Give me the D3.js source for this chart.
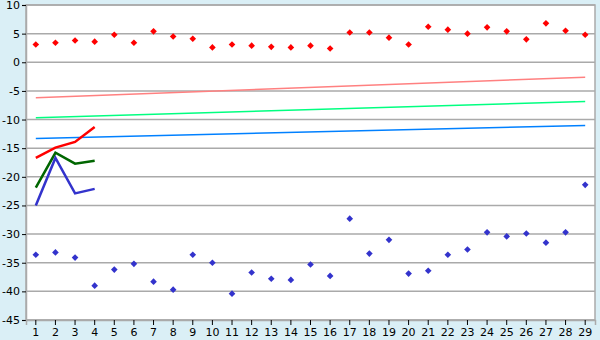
<!DOCTYPE html>
<html>
<head>
<meta charset="utf-8">
<script src="https://cdn.jsdelivr.net/npm/d3@7"></script>
<style>
  body { margin: 0; background: #daeff6; }
  svg { display: block; }
  .tick text { font-family: "DejaVu Sans", Verdana, sans-serif; font-size: 11px; fill: #000; }
</style>
</head>
<body>
<svg id="chart" width="600" height="340"></svg>
<script>
// categories
var days = d3.range(1, 30);
var yTicks = [10, 5, 0, -5, -10, -15, -20, -25, -30, -35, -40, -45];

// red scatter (upper)
var highPts = [3.1, 3.4, 3.8, 3.6, 4.8, 3.4, 5.4, 4.5, 4.1, 2.6, 3.1, 2.9, 2.7, 2.6, 2.9, 2.4, 5.2, 5.2, 4.3,
  3.1, 6.2, 5.7, 5.0, 6.1, 5.4, 4.0, 6.8, 5.5, 4.8];
// blue scatter (lower)
var lowPts = [-33.6, -33.2, -34.1, -39.0, -36.2, -35.2, -38.3, -39.7, -33.6, -35.0, -40.4, -36.7, -37.8, -38.0, -35.3, -37.3,
  -27.3, -33.4, -31.0, -36.9, -36.4, -33.6, -32.7, -29.7, -30.4, -29.9, -31.5, -29.7, -21.4];

// short lines, first 4 days
var redLine = [-16.7, -14.9, -13.9, -11.3];
var greenLine = [-21.9, -15.8, -17.7, -17.2];
var blueLine = [-25.0, -16.7, -22.9, -22.1];

// trend lines, value at day 1 and day 29
var trendPink = [-6.2, -2.6];
var trendGreen = [-9.7, -6.85];
var trendBlue = [-13.3, -11.05];

var svg = d3.select("#chart");
var m = {left: 26, top: 5, right: 5, bottom: 20};
var w = 600 - m.left - m.right, h = 340 - m.top - m.bottom;

var x = d3.scaleBand().domain(days).range([0, w]);
var y = d3.scaleLinear().domain([-45, 10]).range([h, 0]);
var cx = function(d) { return x(d) + x.bandwidth() / 2; };

var g = svg.append("g").attr("transform", "translate(" + m.left + "," + m.top + ")");

g.append("rect").attr("width", w).attr("height", h).attr("fill", "#fff");

// grid
g.selectAll("line.grid")
  .data(yTicks)
  .enter()
  .append("line")
  .attr("class", "grid")
  .attr("x1", 0).attr("x2", w)
  .attr("y1", function(d) { return y(d); })
  .attr("y2", function(d) { return y(d); })
  .attr("stroke", "#aaa")
  .attr("stroke-width", 1.5);

g.append("rect").attr("width", w).attr("height", h)
  .attr("fill", "none").attr("stroke", "#aaa").attr("stroke-width", 1.5);

// axes
var yAxis = g.append("g").call(d3.axisLeft(y).tickValues(yTicks).tickSize(4).tickPadding(2)
  .tickFormat(function(d) { return String(d); }));
var xAxis = g.append("g").attr("transform", "translate(0," + h + ")")
  .call(d3.axisBottom(x).tickSize(5).tickPadding(3));
[yAxis, xAxis].forEach(function(a) {
  a.select(".domain").attr("stroke", "#aaa").attr("stroke-width", 1.5);
  a.selectAll(".tick line").attr("stroke", "#000");
});

// trend lines
var trends = [[trendPink, "#ff8080"], [trendGreen, "#00ff80"], [trendBlue, "#0080ff"]];
trends.forEach(function(t) {
  g.append("line")
    .attr("x1", cx(1)).attr("x2", cx(29))
    .attr("y1", y(t[0][0])).attr("y2", y(t[0][1]))
    .attr("stroke", t[1]).attr("stroke-width", 1.5);
});

// short lines
var line = d3.line().x(function(d, i) { return cx(days[i]); }).y(function(d) { return y(d); });
[[redLine, "#ff0000"], [greenLine, "#006600"], [blueLine, "#3333cc"]].forEach(function(s) {
  g.append("path").datum(s[0])
    .attr("d", line)
    .attr("fill", "none")
    .attr("stroke", s[1])
    .attr("stroke-width", 2.5);
});

// scatter markers (square turned 45deg)
var diamond = d3.symbol().type(d3.symbolSquare).size(22);
[[highPts, "#ff0000"], [lowPts, "#3333cc"]].forEach(function(s) {
  g.append("g").selectAll("path")
    .data(s[0])
    .enter()
    .append("path")
    .attr("d", diamond)
    .attr("transform", function(d, i) { return "translate(" + cx(days[i]) + "," + y(d) + ") rotate(45)"; })
    .attr("fill", s[1]);
});
</script>
</body>
</html>
